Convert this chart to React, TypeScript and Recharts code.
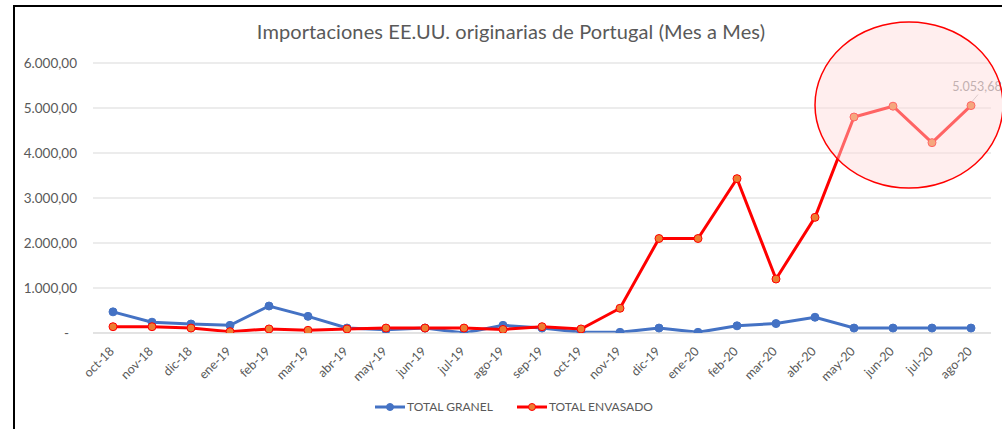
import React from "react";
import { LineChart, Line, XAxis, YAxis, CartesianGrid, Legend, LabelList } from "recharts";

const months = [
  "oct-18", "nov-18", "dic-18", "ene-19", "feb-19", "mar-19", "abr-19", "may-19",
  "jun-19", "jul-19", "ago-19", "sep-19", "oct-19", "nov-19", "dic-19", "ene-20",
  "feb-20", "mar-20", "abr-20", "may-20", "jun-20", "jul-20", "ago-20",
];

const totalGranel = [
  470, 240, 200, 170, 600, 370, 110, 70, 110, 0, 170, 110, 15,
  15, 110, 15, 160, 210, 350, 110, 110, 110, 110,
];

const totalEnvasado = [
  140, 140, 110, 30, 90, 60, 90, 110, 110, 110, 80, 140, 90,
  550, 2100, 2100, 3430, 1200, 2570, 4800, 5040, 4230, 5053.68,
];

const yTicks = [0, 1000, 2000, 3000, 4000, 5000, 6000];

const data = months.map((m, i) => ({
  month: m,
  granel: totalGranel[i],
  envasado: totalEnvasado[i],
}));

const FONT = "Lato, 'Open Sans', sans-serif";
const TEXT = "#595959";

function fmt(v: number) {
  if (v === 0) return "-";
  const [int, dec] = v.toFixed(2).split(".");
  return int.replace(/\B(?=(\d{3})+(?!\d))/g, ".") + "," + dec;
}

const XTick = ({ x, y, payload }: any) => (
  <g transform={`translate(${x + 2},${y + 19})`}>
    <text textAnchor="end" transform="rotate(-45)" fill={TEXT} fontSize={12.5} fontFamily={FONT}>
      {payload.value}
    </text>
  </g>
);

const YTick = ({ x, y, payload }: any) => (
  <text
    x={payload.value === 0 ? x - 8 : x}
    y={y}
    dy={4.5}
    textAnchor="end"
    fill={TEXT}
    fontSize={13.5}
    fontFamily={FONT}
  >
    {fmt(payload.value)}
  </text>
);

const LastLabel = (props: any) => {
  const { x, y, index, value } = props;
  if (index !== months.length - 1) return null;
  return (
    <g>
      <line x1={x + 1} y1={y - 4} x2={x + 7} y2={y - 11} stroke="#bfbfbf" strokeWidth={1} />
      <text x={x + 6} y={y - 15} textAnchor="middle" fill="#8c8c8c" fontSize={12.5} fontFamily={FONT}>
        {fmt(value)}
      </text>
    </g>
  );
};

const legendItems = [
  { name: "TOTAL GRANEL", line: "#4472C4", dot: "#4472C4" },
  { name: "TOTAL ENVASADO", line: "#FF0000", dot: "#ED7D31" },
];

const LegendContent = () => (
  <div style={{ display: "flex", justifyContent: "center", alignItems: "center", gap: 23, paddingLeft: 36 }}>
    {legendItems.map((it) => (
      <div key={it.name} style={{ display: "flex", alignItems: "center" }}>
        <svg width={32} height={10}>
          <line x1={1} y1={5} x2={31} y2={5} stroke={it.line} strokeWidth={3} />
          <circle cx={16} cy={5} r={3.5} fill={it.dot} stroke={it.line} strokeWidth={1} />
        </svg>
        <span style={{ color: TEXT, fontSize: 12, fontFamily: FONT, marginLeft: 1 }}>{it.name}</span>
      </div>
    ))}
  </div>
);

export default function App() {
  return (
    <div style={{ position: "fixed", left: 0, top: 0, width: 1002, height: 429, background: "#fff", overflow: "hidden" }}>
      <div
        style={{
          position: "absolute",
          left: 13,
          top: 5,
          width: 1010,
          height: 440,
          borderLeft: "2px solid #000",
          borderTop: "2px solid #000",
          boxSizing: "border-box",
        }}
      />
      <div
        style={{
          position: "absolute",
          left: 0,
          width: 1022,
          top: 19,
          textAlign: "center",
          fontFamily: FONT,
          fontSize: 20,
          letterSpacing: 0.1,
          color: TEXT,
        }}
      >
        Importaciones EE.UU. originarias de Portugal (Mes a Mes)
      </div>
      <div style={{ position: "absolute", left: 0, top: 0 }}>
        <LineChart width={1002} height={429} data={data} margin={{ top: 63, right: 11, left: 0, bottom: 0 }}>
          <CartesianGrid vertical={false} stroke="#d9d9d9" strokeWidth={1} />
          <XAxis
            dataKey="month"
            interval={0}
            tickLine={false}
            tickSize={0}
            tickMargin={0}
            axisLine={{ stroke: "#d9d9d9" }}
            height={66}
            padding={{ left: 20, right: 20 }}
            tick={<XTick />}
          />
          <YAxis
            width={93}
            domain={[0, 6000]}
            ticks={yTicks}
            allowDataOverflow
            axisLine={false}
            tickLine={false}
            tickSize={0}
            tickMargin={0}
            tick={(p: any) => <YTick {...p} x={77} />}
          />
          <Legend
            verticalAlign="bottom"
            content={<LegendContent />}
            wrapperStyle={{ height: 30, bottom: 0 }}
          />
          <Line
            type="linear"
            dataKey="granel"
            name="TOTAL GRANEL"
            stroke="#4472C4"
            strokeWidth={3}
            dot={{ r: 4, fill: "#4472C4", stroke: "#4472C4", strokeWidth: 1 }}
            isAnimationActive={false}
          />
          <Line
            type="linear"
            dataKey="envasado"
            name="TOTAL ENVASADO"
            stroke="#FF0000"
            strokeWidth={3}
            dot={{ r: 4, fill: "#ED7D31", stroke: "#FF0000", strokeWidth: 1 }}
            isAnimationActive={false}
          >
            <LabelList dataKey="envasado" content={<LastLabel />} />
          </Line>
        </LineChart>
      </div>
      <svg width={1002} height={429} style={{ position: "absolute", left: 0, top: 0, pointerEvents: "none" }}>
        <ellipse cx={909} cy={105} rx={94} ry={83} fill="rgba(255,217,217,0.46)" stroke="#FF0000" strokeWidth={1.5} />
      </svg>
    </div>
  );
}
